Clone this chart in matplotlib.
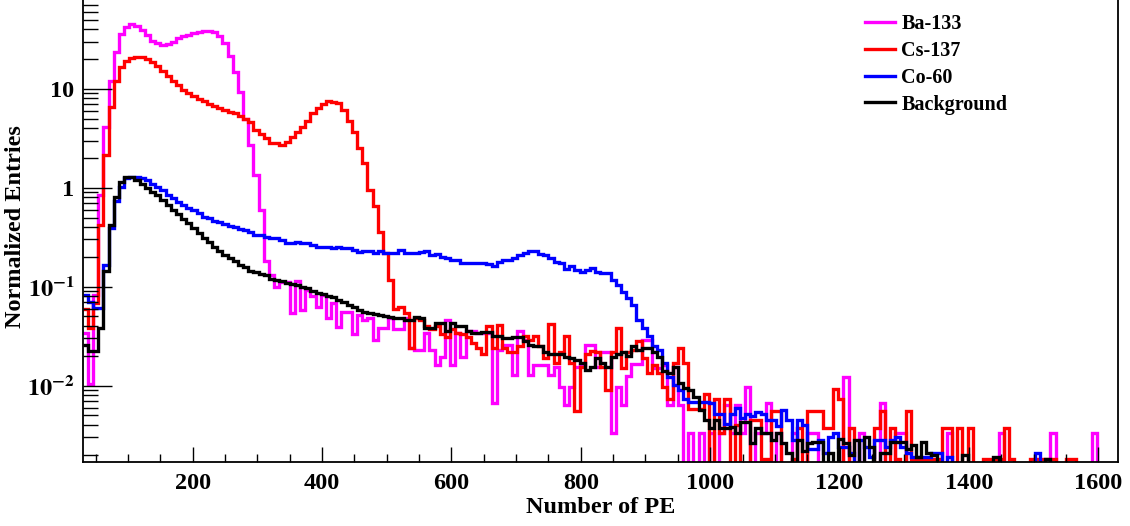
import numpy as np
import matplotlib
matplotlib.use('Agg')
import matplotlib.pyplot as plt
from matplotlib.ticker import FixedLocator, MultipleLocator, LogLocator, NullFormatter

# 200 bins of 8 PE, 30 .. 1630
bin_lo = 30
bin_w = 8
n_bins = 200

ba133 = [
    0.034, 0.0103, 0.083, 0.84, 4.11, 12.1, 23.4, 35.8, 41.8, 45.1,
    42.7, 39.6, 35.0, 30.7, 28.8, 27.7, 28.4, 30.0, 32.4, 33.9,
    35.0, 36.3, 37.2, 38.0, 38.0, 37.2, 33.9, 28.8, 21.7, 14.9,
    9.3, 4.9, 2.7, 1.35, 0.59, 0.18, 0.13, 0.10, 0.112, 0.112,
    0.054, 0.115, 0.058, 0.092, 0.08, 0.062, 0.082, 0.048, 0.068, 0.039,
    0.055, 0.055, 0.033, 0.052, 0.046, 0.048, 0.029, 0.038, 0.038, 0.048,
    0.037, 0.037, 0.048, 0.024, 0.023, 0.023, 0.034, 0.023, 0.016, 0.0196,
    0.046, 0.016, 0.034, 0.0196, 0.036, 0.036, 0.034, 0.034, 0.034, 0.0066,
    0.023, 0.026, 0.026, 0.0128, 0.036, 0.029, 0.0128, 0.0161, 0.0161, 0.0161,
    0.0128, 0.0155, 0.0097, 0.0064, 0.0097, 0.0155, 0.0161, 0.026, 0.026, 0.0155,
    0.022, 0.022, 0.0033, 0.0097, 0.0064, 0.0125, 0.0165, 0.0165, 0.029, 0.029,
    0.015, 0.015, 0.016, 0.0064, 0.0155, 0.0064, 0, 0.0033, 0, 0.0033,
    0, 0.0033, 0, 0.0033, 0.0064, 0.0033, 0.0064, 0.0033, 0.0097, 0,
    0.0033, 0.0033, 0.0066, 0, 0.0033, 0, 0, 0.0033, 0, 0,
    0.0033, 0.0033, 0, 0, 0, 0, 0, 0.0123, 0, 0,
    0.0033, 0, 0, 0, 0.0066, 0, 0, 0.0033, 0.0033, 0,
    0, 0, 0, 0, 0, 0, 0, 0.0033, 0, 0,
    0, 0, 0, 0, 0, 0, 0, 0.0033, 0, 0,
    0, 0, 0, 0, 0, 0, 0, 0.0033, 0, 0,
    0, 0, 0, 0, 0, 0.0033, 0, 0, 0, 0,
]

cs137 = [
    0.059, 0.038, 0.069, 0.42, 2.13, 6.54, 12.1, 16.5, 19.3, 20.4,
    20.8, 21.2, 20.0, 18.5, 17.2, 15.3, 13.6, 12.1, 11.0, 9.8,
    9.0, 8.4, 7.9, 7.45, 7.06, 6.69, 6.39, 6.15, 5.82, 5.69,
    5.37, 5.0, 4.6, 3.83, 3.49, 3.16, 2.85, 2.81, 2.70, 2.92,
    3.23, 3.68, 4.14, 4.76, 5.65, 6.34, 7.02, 7.59, 7.35, 7.24,
    6.1, 4.76, 3.68, 2.5, 1.76, 0.95, 0.65, 0.36, 0.22, 0.117,
    0.06, 0.063, 0.054, 0.024, 0.048, 0.046, 0.040, 0.037, 0.040, 0.033,
    0.031, 0.037, 0.034, 0.033, 0.031, 0.027, 0.024, 0.021, 0.040, 0.024,
    0.041, 0.024, 0.022, 0.022, 0.025, 0.032, 0.029, 0.032, 0.025, 0.019,
    0.042, 0.017, 0.022, 0.032, 0.017, 0.0056, 0.0155, 0.021, 0.0225, 0.022,
    0.0155, 0.009, 0.022, 0.038, 0.015, 0.022, 0.023, 0.028, 0.019, 0.0133,
    0.0163, 0.0133, 0.0097, 0.0074, 0.017, 0.024, 0.017, 0.0058, 0.0058, 0.0058,
    0.0083, 0, 0.0074, 0.0033, 0.0074, 0, 0.004, 0, 0, 0.0045,
    0.0045, 0.0018, 0.0018, 0.0055, 0.0055, 0, 0, 0.0018, 0.0037, 0,
    0.0055, 0.0055, 0.0055, 0.0037, 0.0037, 0.0092, 0.0074, 0, 0.0037, 0,
    0, 0, 0, 0.0037, 0.0055, 0, 0.0037, 0.0018, 0, 0.0055,
    0.0018, 0.0018, 0.0018, 0.0018, 0.0018, 0.0018, 0.0037, 0.0037, 0, 0.0037,
    0, 0.0037, 0, 0, 0.0018, 0.0018, 0.0018, 0.0018, 0.0037, 0.0018,
    0, 0, 0, 0.0018, 0.0018, 0.0018, 0.0018, 0.0018, 0, 0,
    0.0018, 0.0018, 0, 0, 0, 0, 0, 0, 0, 0,
]

co60 = [
    0.082, 0.07, 0.061, 0.061, 0.167, 0.39, 0.74, 1.02, 1.24, 1.27,
    1.27, 1.24, 1.19, 1.10, 1.02, 0.95, 0.84, 0.78, 0.71, 0.67,
    0.62, 0.60, 0.55, 0.51, 0.49, 0.46, 0.45, 0.43, 0.41, 0.40,
    0.38, 0.37, 0.355, 0.333, 0.333, 0.32, 0.31, 0.31, 0.295, 0.278,
    0.278, 0.284, 0.274, 0.274, 0.264, 0.254, 0.254, 0.254, 0.245, 0.254,
    0.245, 0.245, 0.234, 0.226, 0.231, 0.231, 0.22, 0.231, 0.22, 0.22,
    0.22, 0.234, 0.22, 0.22, 0.22, 0.226, 0.231, 0.209, 0.214, 0.2,
    0.193, 0.186, 0.186, 0.175, 0.172, 0.172, 0.172, 0.175, 0.17, 0.163,
    0.178, 0.187, 0.187, 0.196, 0.21, 0.22, 0.229, 0.229, 0.214, 0.209,
    0.193, 0.178, 0.172, 0.152, 0.16, 0.148, 0.142, 0.148, 0.153, 0.142,
    0.138, 0.138, 0.117, 0.104, 0.089, 0.076, 0.065, 0.046, 0.038, 0.032,
    0.025, 0.023, 0.0168, 0.0123, 0.0101, 0.009, 0.0074, 0.0069, 0.0069, 0.0069,
    0.0069, 0.0067, 0.0052, 0.0052, 0.0041, 0.0052, 0.006, 0.0047, 0.0052, 0.0049,
    0.0054, 0.0052, 0.0045, 0.0045, 0.0039, 0.0057, 0.0045, 0.0028, 0.0045, 0.004,
    0.0023, 0.0023, 0.0028, 0.0021, 0.003, 0.0033, 0.0024, 0.0024, 0.0021, 0,
    0.0028, 0.0024, 0.0019, 0.0028, 0.0028, 0.0024, 0.0028, 0.003, 0.0024, 0.0021,
    0.0019, 0.0019, 0.0019, 0.0019, 0.0021, 0.0021, 0, 0.0019, 0, 0,
    0, 0, 0, 0, 0, 0, 0, 0, 0, 0,
    0, 0, 0, 0, 0.0021, 0, 0, 0, 0, 0,
    0, 0, 0, 0, 0, 0, 0, 0, 0, 0,
]

background = [
    0.0255, 0.0223, 0.0223, 0.0384, 0.143, 0.42, 0.80, 1.15, 1.27, 1.27,
    1.19, 1.10, 1.0, 0.91, 0.84, 0.75, 0.67, 0.60, 0.54, 0.48,
    0.44, 0.39, 0.35, 0.31, 0.28, 0.25, 0.23, 0.21, 0.195, 0.18,
    0.167, 0.157, 0.145, 0.14, 0.135, 0.13, 0.12, 0.118, 0.115, 0.11,
    0.107, 0.103, 0.099, 0.097, 0.09, 0.087, 0.085, 0.08, 0.078, 0.074,
    0.07, 0.066, 0.063, 0.058, 0.055, 0.054, 0.053, 0.052, 0.05, 0.049,
    0.048, 0.048, 0.046, 0.046, 0.049, 0.048, 0.038, 0.038, 0.043, 0.043,
    0.036, 0.043, 0.040, 0.040, 0.036, 0.034, 0.034, 0.035, 0.035, 0.032,
    0.032, 0.030, 0.030, 0.031, 0.031, 0.028, 0.026, 0.025, 0.025, 0.022,
    0.021, 0.021, 0.021, 0.0196, 0.019, 0.018, 0.017, 0.0143, 0.0155, 0.019,
    0.017, 0.0155, 0.0195, 0.021, 0.022, 0.020, 0.025, 0.023, 0.024, 0.024,
    0.022, 0.0195, 0.014, 0.0133, 0.0155, 0.0105, 0.0094, 0.009, 0.0077, 0.0057,
    0.0045, 0.0037, 0.0045, 0.0037, 0.0037, 0.0038, 0.0033, 0.0043, 0.0043, 0.0026,
    0.0037, 0.0033, 0.0033, 0.0028, 0.0033, 0.0026, 0.0021, 0, 0.0028, 0.0022,
    0.0026, 0.0027, 0.0027, 0, 0.0021, 0, 0.0029, 0.0026, 0.0020, 0.0028,
    0, 0.0030, 0.0024, 0, 0.0021, 0.0021, 0.0027, 0.0027, 0.0027, 0.0023,
    0.0025, 0.0019, 0.0027, 0.0021, 0.0020, 0, 0, 0, 0, 0,
    0.0020, 0, 0, 0, 0, 0, 0.0019, 0, 0, 0,
    0, 0, 0, 0, 0, 0, 0.0018, 0, 0, 0,
    0, 0, 0, 0, 0, 0, 0, 0, 0, 0,
]

series = [
    ('Ba-133', ba133, '#ff00ff'),
    ('Cs-137', cs137, '#ff0000'),
    ('Co-60', co60, '#0000ff'),
    ('Background', background, '#000000'),
]

plt.rcParams['font.family'] = ['Liberation Serif', 'DejaVu Serif']
plt.rcParams['font.weight'] = 'bold'
plt.rcParams['mathtext.fontset'] = 'stix'

edges = bin_lo + bin_w * np.arange(n_bins + 1)

fig = plt.figure(figsize=(11.3, 5.26), dpi=100)
ax = fig.add_axes([0.0732, 0.1222, 0.9159, 0.8778])

for name, vals, col in series:
    v = np.asarray(vals, dtype=float)
    v = np.where(v > 0, v, 1e-6)  # empty bins go to the floor, like ROOT
    ax.stairs(v, edges, baseline=None, color=col, lw=2.4, label=name)

ax.set_yscale('log')
ax.set_xlim(edges[0], edges[-1])
ax.set_ylim(0.0017, 79)

# ROOT-like ticks: inside, left and bottom only
ax.xaxis.set_major_locator(MultipleLocator(200))
ax.xaxis.set_minor_locator(MultipleLocator(50))
ax.yaxis.set_major_locator(FixedLocator([0.01, 0.1, 1, 10]))
ax.yaxis.set_major_formatter(plt.FixedFormatter([r'$\mathbf{10^{-2}}$', r'$\mathbf{10^{-1}}$', '1', '10']))
ax.yaxis.set_minor_locator(LogLocator(base=10, subs=np.arange(2, 10)))
ax.yaxis.set_minor_formatter(NullFormatter())

ax.tick_params(axis='x', which='major', direction='in', length=11, width=1, labelsize=17.5, pad=8)
ax.tick_params(axis='x', which='minor', direction='in', length=5.5, width=1)
ax.tick_params(axis='y', which='major', direction='in', length=21, width=1, labelsize=17.5, pad=6)
ax.tick_params(axis='y', which='minor', direction='in', length=11, width=1)
ax.tick_params(top=False, right=False, which='both')

ax.spines['top'].set_visible(False)
for s in ['left', 'bottom', 'right']:
    ax.spines[s].set_linewidth(1.3)

ax.set_xlabel('Number of PE', fontsize=17.5, fontweight='bold', labelpad=2)
ax.set_ylabel('Normalized Entries', fontsize=17.5, fontweight='bold')
ax.yaxis.set_label_coords(-0.055, 0.51)

leg = ax.legend(loc='upper left', bbox_to_anchor=(0.7655, 0.974), bbox_transform=fig.transFigure,
                frameon=False, fontsize=14.5, handlelength=1.5, handletextpad=0.3,
                labelspacing=0.345, borderpad=0, borderaxespad=0)
for t in leg.get_texts():
    t.set_fontweight('bold')

fig.savefig('out.png', dpi=100)
